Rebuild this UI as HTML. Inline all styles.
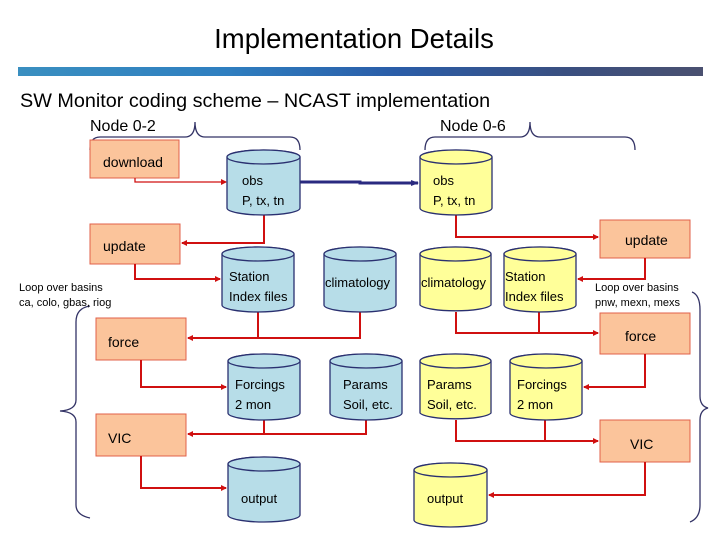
<!DOCTYPE html>
<html><head><meta charset="utf-8"><style>
html,body{margin:0;padding:0;background:#fff;}
svg{display:block;font-family:"Liberation Sans",Arial,sans-serif;}
</style></head><body>
<svg width="720" height="540" viewBox="0 0 720 540" xmlns="http://www.w3.org/2000/svg">
<defs>
<linearGradient id="ban" x1="0" x2="1" y1="0" y2="0">
<stop offset="0" stop-color="#3a8fc0"/><stop offset="0.3" stop-color="#2f7fc0"/><stop offset="0.55" stop-color="#2a5da8"/><stop offset="0.8" stop-color="#3a4f80"/><stop offset="1" stop-color="#4a5070"/>
</linearGradient>
<marker id="ar" markerWidth="6" markerHeight="6" refX="5" refY="3" orient="auto" markerUnits="userSpaceOnUse"><path d="M0,0 L6,3 L0,6 z" fill="#d01010"/></marker>
<marker id="ab" markerWidth="8" markerHeight="8" refX="7" refY="4" orient="auto" markerUnits="userSpaceOnUse"><path d="M0,1 L8,4 L0,7 z" fill="#2a2a80"/></marker>
</defs>
<text x="354" y="48" font-size="27.5" text-anchor="middle" fill="#000">Implementation Details</text>
<rect x="18" y="67" width="685" height="9" fill="url(#ban)"/>
<text x="20" y="107" font-size="19.8" fill="#000">SW Monitor coding scheme – NCAST implementation</text>
<text x="90" y="131" font-size="16">Node 0-2</text>
<text x="440" y="131" font-size="16">Node 0-6</text>
<g fill="none" stroke="#333366" stroke-width="1.3">
<path d="M90,150 Q90,137 100,137 L185,137 Q195,137 195,122 Q195,137 205,137 L290,137 Q300,137 300,150"/>
<path d="M425,150 Q425,137 435,137 L520,137 Q530,137 530,122 Q530,137 540,137 L625,137 Q635,137 635,150"/>
<path d="M90,306 Q76,308 76,322 L76,400 Q76,410 60,411 Q76,412 76,422 L76,505 Q76,515 90,518"/>
<path d="M692,292 Q700,295 700,310 L700,396 Q700,406 708,408 Q700,410 700,420 L700,505 Q700,518 690,522"/>
</g>
<g fill="#fbc49b" stroke="#e0604a" stroke-width="1">
<rect x="90" y="140" width="89" height="38"/>
<rect x="90" y="224" width="90" height="40"/>
<rect x="96" y="318" width="90" height="42"/>
<rect x="96" y="414" width="90" height="42"/>
<rect x="600" y="220" width="90" height="38"/>
<rect x="600" y="313" width="90" height="41"/>
<rect x="600" y="420" width="90" height="42"/>
</g>
<g font-size="14" fill="#000">
<text x="103" y="167">download</text>
<text x="103" y="251">update</text>
<text x="108" y="347">force</text>
<text x="108" y="443">VIC</text>
<text x="625" y="245">update</text>
<text x="625" y="341">force</text>
<text x="630" y="449">VIC</text>
</g>
<g font-size="11" fill="#000">
<text x="19" y="291">Loop over basins</text>
<text x="19" y="306">ca, colo, gbas, riog</text>
<text x="595" y="291">Loop over basins</text>
<text x="595" y="306">pnw, mexn, mexs</text>
</g>
<g fill="none" stroke="#d01010" stroke-width="2">
<path d="M135,178 V182 H226" stroke-width="1.3" marker-end="url(#ar)"/>
<path d="M264,215 V243 H182" marker-end="url(#ar)"/>
<path d="M135,264 V279 H220" marker-end="url(#ar)"/>
<path d="M258,312 V338 H188" marker-end="url(#ar)"/>
<path d="M360,312 V338 H258"/>
<path d="M141,360 V387 H226" marker-end="url(#ar)"/>
<path d="M264,420 V434 H188" marker-end="url(#ar)"/>
<path d="M366,420 V434 H264"/>
<path d="M141,456 V488 H226" marker-end="url(#ar)"/>
<path d="M456,215 V237 H598" marker-end="url(#ar)"/>
<path d="M645,258 V279 H578" marker-end="url(#ar)"/>
<path d="M456,312 V333 H598" marker-end="url(#ar)"/>
<path d="M539,312 V333"/>
<path d="M645,354 V387 H584" marker-end="url(#ar)"/>
<path d="M456,420 V441 H598" marker-end="url(#ar)"/>
<path d="M545,420 V441"/>
<path d="M645,462 V495 H489" marker-end="url(#ar)"/>
</g>
<path d="M300,182 H360 V183 H418" stroke="#2a2a80" stroke-width="3" fill="none" marker-end="url(#ab)"/>
<g stroke="#2a3070" stroke-width="1.3">
<g fill="#b7dde8">
<path d="M227,157 V208 A36.5,7 0 0 0 300,208 V157 A36.5,7 0 0 0 227,157 Z"/><ellipse cx="263.5" cy="157" rx="36.5" ry="7"/>
<path d="M222,254 V305 A36,7 0 0 0 294,305 V254 A36,7 0 0 0 222,254 Z"/><ellipse cx="258" cy="254" rx="36" ry="7"/>
<path d="M324,254 V305 A36,7 0 0 0 396,305 V254 A36,7 0 0 0 324,254 Z"/><ellipse cx="360" cy="254" rx="36" ry="7"/>
<path d="M228,361 V413 A36,7 0 0 0 300,413 V361 A36,7 0 0 0 228,361 Z"/><ellipse cx="264" cy="361" rx="36" ry="7"/>
<path d="M330,361 V413 A36,7 0 0 0 402,413 V361 A36,7 0 0 0 330,361 Z"/><ellipse cx="366" cy="361" rx="36" ry="7"/>
<path d="M228,464 V515 A36,7 0 0 0 300,515 V464 A36,7 0 0 0 228,464 Z"/><ellipse cx="264" cy="464" rx="36" ry="7"/>
</g>
<g fill="#ffff99">
<path d="M420,157 V208 A36,7 0 0 0 492,208 V157 A36,7 0 0 0 420,157 Z"/><ellipse cx="456" cy="157" rx="36" ry="7"/>
<path d="M420,254 V305 A36,7 0 0 0 491,305 V254 A35.5,7 0 0 0 420,254 Z"/><ellipse cx="455.5" cy="254" rx="35.5" ry="7"/>
<path d="M504,254 V305 A36,7 0 0 0 576,305 V254 A36,7 0 0 0 504,254 Z"/><ellipse cx="540" cy="254" rx="36" ry="7"/>
<path d="M420,361 V413 A36,7 0 0 0 491,413 V361 A35.5,7 0 0 0 420,361 Z"/><ellipse cx="455.5" cy="361" rx="35.5" ry="7"/>
<path d="M510,361 V413 A36,7 0 0 0 582,413 V361 A36,7 0 0 0 510,361 Z"/><ellipse cx="546" cy="361" rx="36" ry="7"/>
<path d="M414,470 V520 A36.5,7 0 0 0 487,520 V470 A36.5,7 0 0 0 414,470 Z"/><ellipse cx="450.5" cy="470" rx="36.5" ry="7"/>
</g>
</g>
<g font-size="13" fill="#000">
<text x="242" y="185">obs</text><text x="242" y="205">P, tx, tn</text>
<text x="433" y="185">obs</text><text x="433" y="205">P, tx, tn</text>
<text x="229" y="281">Station</text><text x="229" y="301">Index files</text>
<text x="325" y="287">climatology</text>
<text x="421" y="287">climatology</text>
<text x="505" y="281">Station</text><text x="505" y="301">Index files</text>
<text x="235" y="389">Forcings</text><text x="235" y="409">2 mon</text>
<text x="343" y="389">Params</text><text x="343" y="409">Soil, etc.</text>
<text x="427" y="389">Params</text><text x="427" y="409">Soil, etc.</text>
<text x="517" y="389">Forcings</text><text x="517" y="409">2 mon</text>
<text x="241" y="503">output</text>
<text x="427" y="503">output</text>
</g>
</svg>
</body></html>
